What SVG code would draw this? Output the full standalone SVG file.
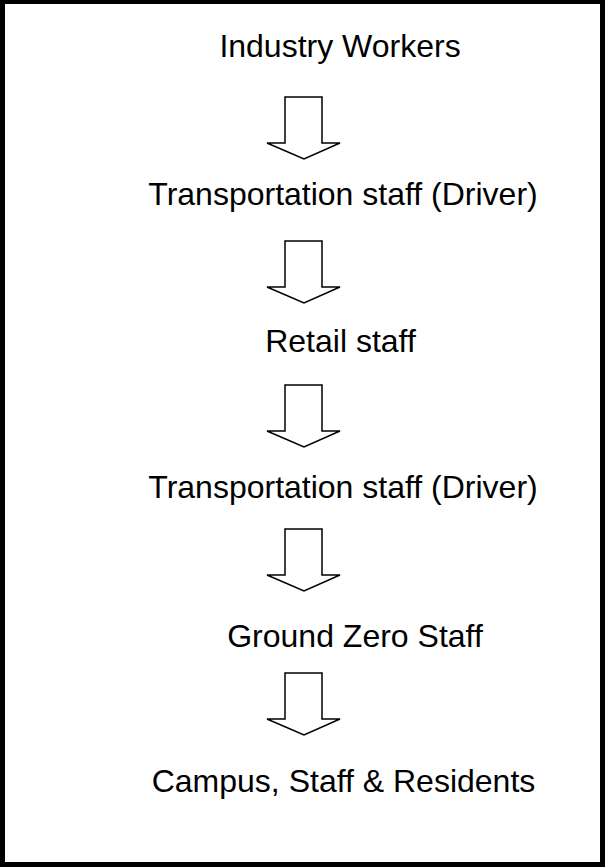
<svg xmlns="http://www.w3.org/2000/svg" width="605" height="867" viewBox="0 0 605 867">
  <style>
    .frame { fill: #ffffff; stroke: #000000; stroke-width: 5; }
    .label { font-family: "Liberation Sans", Arial, sans-serif; font-size: 32px; fill: #000000; text-anchor: middle; }
    .flow { fill: #ffffff; stroke: #000000; stroke-width: 1.5; stroke-linejoin: miter; }
  </style>
  <defs>
    <!-- hollow block arrow pointing down -->
    <path id="downArrow" class="flow" d="M285,97 H322 V143 H340 L304,159 L267,143 H285 Z"/>
  </defs>

  <rect class="frame" x="2.5" y="1.5" width="600" height="863"/>

  <g id="node-industry"><text class="label" x="340" y="57">Industry Workers</text></g>
  <g id="node-transport-1"><text class="label" x="343" y="205">Transportation staff (Driver)</text></g>
  <g id="node-retail"><text class="label" x="340.5" y="352">Retail staff</text></g>
  <g id="node-transport-2"><text class="label" x="343" y="498">Transportation staff (Driver)</text></g>
  <g id="node-ground-zero"><text class="label" x="355" y="647">Ground Zero Staff</text></g>
  <g id="node-campus"><text class="label" x="343.5" y="792">Campus, Staff &amp; Residents</text></g>

  <g id="connectors">
    <use href="#downArrow"/>
    <use href="#downArrow" transform="translate(0,144)"/>
    <use href="#downArrow" transform="translate(0,288)"/>
    <use href="#downArrow" transform="translate(0,432)"/>
    <use href="#downArrow" transform="translate(0,576)"/>
  </g>
</svg>
